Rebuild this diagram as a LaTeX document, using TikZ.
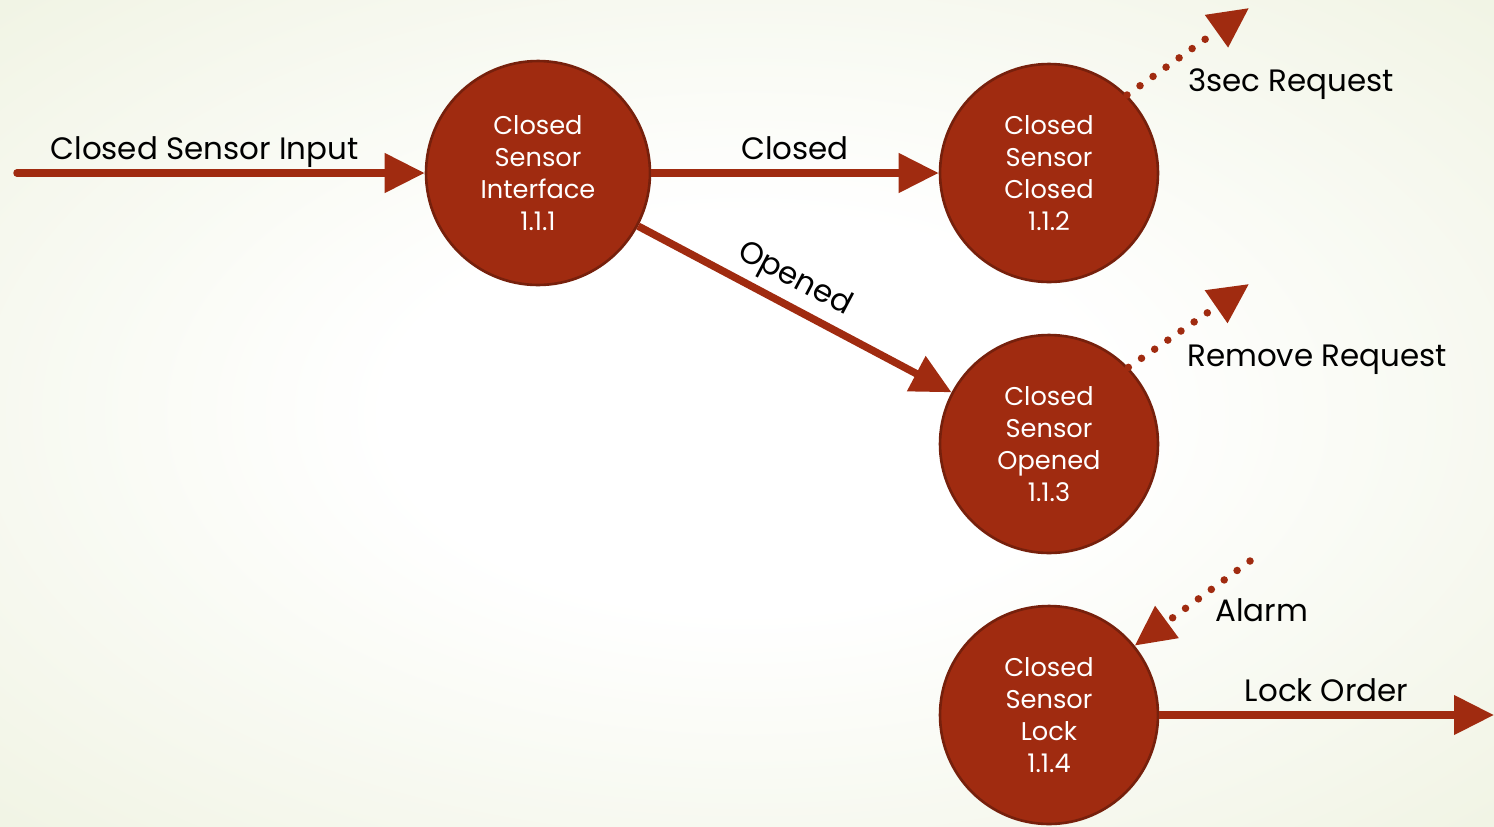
\documentclass[tikz,border=0pt]{standalone}
\usepackage{fontspec}
\setmainfont{Poppins}
\usetikzlibrary{arrows.meta}
\definecolor{rust}{RGB}{160,43,16}
\definecolor{rustdark}{RGB}{118,32,12}
\definecolor{bgpale}{RGB}{232,237,212}
\pgfdeclareradialshading{bgglow}{\pgfpoint{0bp}{0bp}}{color(0bp)=(white); color(12bp)=(white); color(50bp)=(bgpale); color(75bp)=(bgpale)}
\tikzset{
  proc/.style={circle, fill=rust, draw=rustdark, line width=1.5pt, minimum size=4.36cm,
    inner sep=0pt, text=white, align=center, font=\fontsize{14.6}{18.2}\selectfont},
  flow/.style={rust, line width=0.15cm, -{Triangle[length=0.8cm,width=0.76cm]}},
  ctrl/.style={flow, line cap=round, dash pattern=on 0pt off 0.32cm},
  lbl/.style={font=\fontsize{17.6}{21}\selectfont, text=black, text depth=0pt},
}
\begin{document}
\begin{tikzpicture}[x=0.02cm,y=-0.02cm]
    \useasboundingbox (0,0) rectangle (1494,826);
    \shade[shading=bgglow] (0,0) rectangle (1494,826);
    % processes
    \node[proc, minimum size=4.48cm] (iface) at (538,173) {Closed\\Sensor\\Interface\\1.1.1};
    \node[proc] (closed) at (1049,173) {Closed\\Sensor\\Closed\\1.1.2};
    \node[proc] (opened) at (1049,444) {Closed\\Sensor\\Opened\\1.1.3};
    \node[proc] (lock) at (1049,715) {Closed\\Sensor\\Lock\\1.1.4};
    % free ends
    \coordinate (input) at (17,173);
    \coordinate (req3) at (1249,8);
    \coordinate (reqrm) at (1249,284);
    \coordinate (alarm) at (1250,561);
    \coordinate (lockout) at (1494,715);
    % data flows
    \draw[flow, line cap=round] (input) -- (iface) node[lbl, pos=0.46, above=2pt] {Closed Sensor Input};
    \draw[flow] (iface) -- (closed) node[lbl, midway, above=2pt] {Closed};
    \draw[flow] (iface) -- (opened) node[lbl, pos=0.46, above=5pt, sloped] {Opened};
    \draw[flow] (lock) -- (lockout) node[lbl, midway, above=2pt] {Lock Order};
    % control flows
    \draw[ctrl] (closed.45) -- (req3);
    \draw[ctrl] (opened.44) -- (reqrm);
    \draw[ctrl] (alarm) -- (lock.39);
    \node[lbl, anchor=west] (t3sec) at (1182,80) {3sec Request};
    \node[lbl, anchor=west] (trm) at (1181,356) {Remove Request};
    \node[lbl, anchor=west] (talarm) at (1209,610) {Alarm};
\end{tikzpicture}
\end{document}
